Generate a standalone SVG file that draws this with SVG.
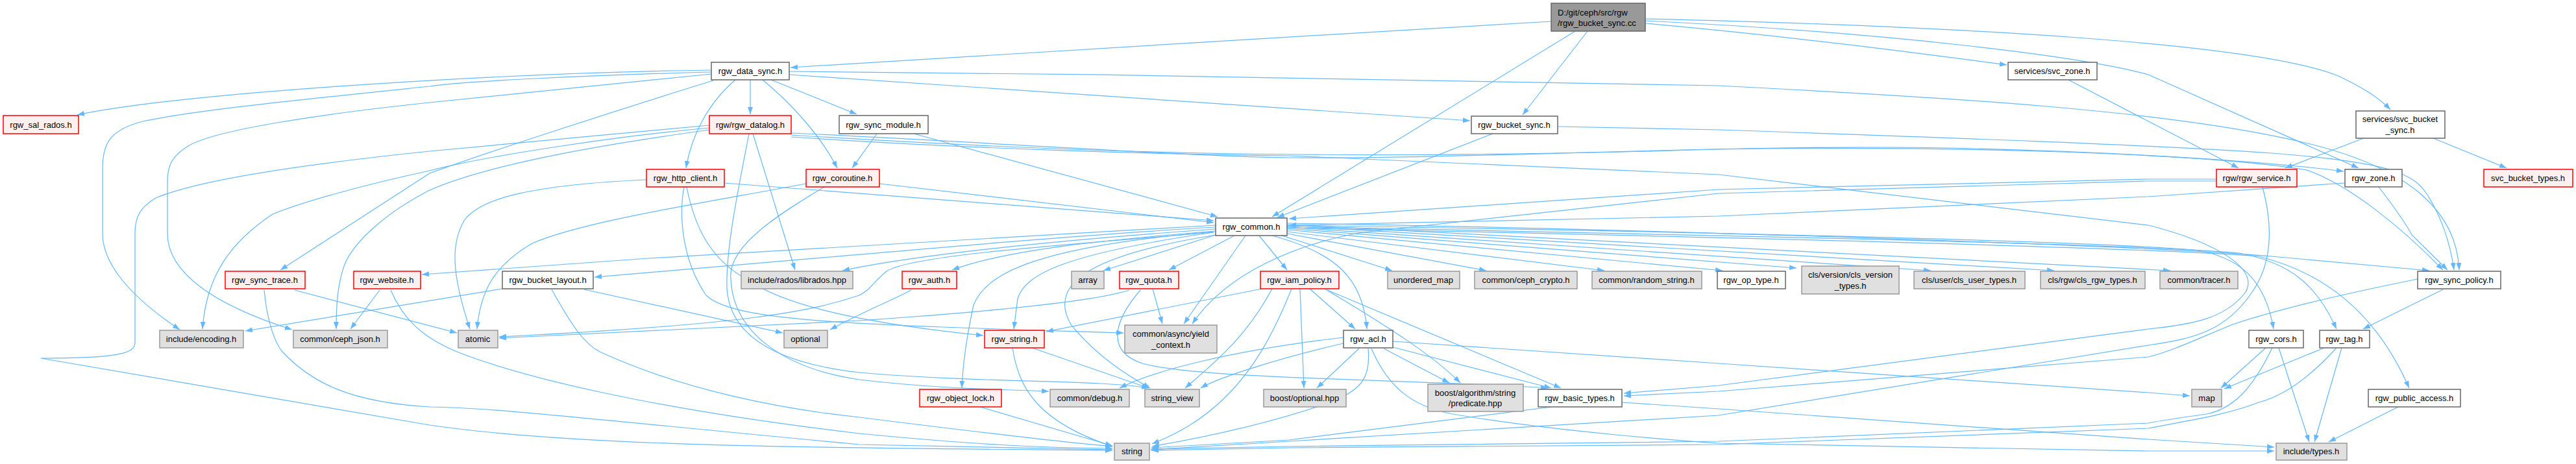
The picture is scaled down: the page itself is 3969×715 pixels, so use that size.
<svg xmlns="http://www.w3.org/2000/svg" width="3969" height="715" viewBox="0 0 3969 715">
<style>
text{font-family:"Liberation Sans",Arial,sans-serif;font-size:13px;fill:#000;text-anchor:middle}
.w{fill:#fff;stroke:#666;stroke-width:1.5}
.g{fill:#E0E0E0;stroke:#999;stroke-width:1.5}
.r{fill:#FFF0F0;stroke:#F00;stroke-width:1.5}
.root{fill:#999;stroke:#666;stroke-width:1.5}
#edges path{fill:none;stroke:#63B8FF;stroke-width:1.2;marker-end:url(#ah)}
</style>
<defs>
<marker id="ah" markerUnits="userSpaceOnUse" markerWidth="11" markerHeight="8" refX="11" refY="4" orient="auto" viewBox="0 0 11 8"><path d="M0,0 L11,4 L0,8 z" fill="#63B8FF"/></marker>
</defs>
<rect width="3969" height="715" fill="#fff"/>
<g id="edges">
<path d="M2390,33 C2000,55 1500,88 1218,104"/>
<path d="M2446,48 L2346,177"/>
<path d="M2427,48 L1960,334"/>
<path d="M2535,36 C2800,60 3000,88 3092,100"/>
<path d="M2535,29 C3000,40 3480,65 3605,118 C3640,135 3665,150 3683,169"/>
<path d="M2535,32 C2900,50 3200,85 3310,115 L3634,259"/>
<path d="M2300,206 L1968,335"/>
<path d="M1216,110 C1700,113 2300,125 2648,132 C3000,150 3350,170 3560,222 C3720,262 3785,330 3789,416"/>
<path d="M1216,115 L2265,186"/>
<path d="M1096,108 C800,112 300,140 119,177"/>
<path d="M1096,111 C900,116 700,126 662,133 C450,155 300,170 220,187 C170,200 158,220 158,260 L158,360 C158,400 190,450 277,508"/>
<path d="M1096,114 L662,158 C500,175 330,200 290,225 C265,240 258,255 258,280 L258,360 C258,420 330,470 450,508"/>
<path d="M1093,193 L662,233 C450,255 300,280 240,305 C215,320 208,335 208,360 L208,528 C208,545 180,552 63,552 L662,655 C900,690 1300,690 1714,694"/>
<path d="M1093,197 C950,210 750,240 662,263 C560,285 470,310 420,330 C360,370 318,420 312,507"/>
<path d="M1099,124 C950,170 750,235 662,267 L432,416"/>
<path d="M1093,200 C950,220 760,250 662,293 C600,325 545,370 530,410 C520,440 518,470 518,507"/>
<path d="M585,447 L540,507"/>
<path d="M602,447 C620,490 650,520 704,542 C800,580 1000,630 1324,668 C1500,685 1600,690 1714,691"/>
<path d="M850,446 C880,500 900,530 924,542 C1050,600 1200,630 1324,643 C1500,665 1650,683 1714,688"/>
<path d="M900,446 L1206,513"/>
<path d="M774,445 L378,510"/>
<path d="M407,447 C412,500 425,530 435,542 C480,590 540,620 662,627 C760,628 900,645 1324,685 L1714,693"/>
<path d="M454,447 L704,513"/>
<path d="M996,277 C820,285 740,305 715,340 C695,375 695,420 724,507"/>
<path d="M1054,288 C1046,330 1050,400 1088,455 C1130,495 1300,500 1731,513"/>
<path d="M1058,288 C1070,350 1095,400 1150,430 C1200,465 1300,495 1515,517"/>
<path d="M1116,282 L1870,340"/>
<path d="M1355,283 L1870,343"/>
<path d="M1242,283 C1100,310 900,340 820,375 C760,410 740,450 735,507"/>
<path d="M1270,288 C1200,330 1120,380 1126,430 C1130,520 1220,570 1324,585 C1450,600 1550,600 1616,603"/>
<path d="M1160,206 L1225,416"/>
<path d="M1154,206 C1140,280 1118,380 1120,445 C1125,520 1200,560 1324,574 C1500,590 1700,585 1770,598"/>
<path d="M1156,123 L1156,176"/>
<path d="M1133,123 C1090,160 1065,210 1057,259"/>
<path d="M1175,123 C1220,160 1265,210 1290,259"/>
<path d="M1188,123 L1320,176"/>
<path d="M1351,206 L1313,259"/>
<path d="M1408,206 L1876,334"/>
<path d="M1219,205 C1500,218 1850,242 1986,243 C2300,245 2648,222 3000,228 C3300,235 3500,250 3611,264"/>
<path d="M1219,208 C1600,232 2000,250 2648,230 C3000,224 3400,236 3554,262 C3620,285 3700,350 3764,416"/>
<path d="M2400,195 L2648,200 C3000,212 3310,223 3500,236 C3690,250 3720,270 3740,300 C3765,340 3776,380 3781,416"/>
<path d="M1219,211 C1500,230 1800,238 1986,240 L2648,269 L3310,347 C3420,375 3480,415 3460,450 C3430,490 3380,500 3310,507 L2648,594 L2502,606"/>
<path d="M3486,288 C3500,340 3505,400 3470,450 C3430,510 3380,522 3310,532 L2648,640 L1986,680 L1773,693"/>
<path d="M3725,430 C3600,455 3500,480 3440,500 C3390,520 3350,540 3310,550 L2648,603 L2502,610"/>
<path d="M3187,123 L3449,259"/>
<path d="M3642,213 L3521,259"/>
<path d="M3749,213 L3862,259"/>
<path d="M3415,276 L3310,276 L2648,292 L1986,337"/>
<path d="M3415,279 L3310,279 L2648,298 L2100,358 C2000,375 1890,420 1837,499"/>
<path d="M3613,282 L3310,303 L2648,333 L1986,347"/>
<path d="M3665,288 C3690,320 3710,350 3716,362 L3771,416"/>
<path d="M1873,347 C1600,362 1324,378 1000,398 L650,423"/>
<path d="M1873,350 C1600,366 1324,393 916,427"/>
<path d="M1873,353 C1600,372 1400,395 1298,417"/>
<path d="M1873,356 C1700,370 1550,385 1467,416"/>
<path d="M1870,358 C1600,380 1400,395 1366,418 C1345,435 1340,448 1324,455 C1250,480 1150,500 769,519"/>
<path d="M1873,362 L1700,417"/>
<path d="M1902,363 L1801,416"/>
<path d="M1919,363 L1824,499"/>
<path d="M1940,363 L1983,416"/>
<path d="M1873,362 C1700,390 1610,430 1650,500 C1690,550 1740,580 1772,598"/>
<path d="M1870,358 C1650,390 1580,420 1568,460 L1562,507"/>
<path d="M1870,357 C1600,380 1520,420 1500,470 C1487,530 1483,570 1482,598"/>
<path d="M1960,363 C2060,390 2100,430 2106,507"/>
<path d="M1975,363 L2145,417"/>
<path d="M1983,360 L2290,417"/>
<path d="M1983,357 L2472,417"/>
<path d="M1983,354 L2654,417"/>
<path d="M1983,352 L2768,413"/>
<path d="M1983,350 L2975,417"/>
<path d="M1983,348 L3165,417"/>
<path d="M1983,346 L3344,417"/>
<path d="M1983,344 C2500,352 3300,378 3500,395 L3743,417"/>
<path d="M1983,347 C2500,355 3200,370 3380,385 C3450,395 3490,430 3503,507"/>
<path d="M1983,349 C2500,360 3300,375 3450,390 C3530,405 3570,440 3600,507"/>
<path d="M1983,351 C2500,362 3300,380 3480,395 C3580,420 3660,480 3712,598"/>
<path d="M1740,447 C1700,460 1600,475 1324,494 L769,521"/>
<path d="M1776,445 L1791,499"/>
<path d="M1757,447 C1720,490 1700,540 1760,560 C1850,585 2200,585 2385,598"/>
<path d="M1404,447 C1370,465 1330,480 1279,508"/>
<path d="M1944,445 L1612,511"/>
<path d="M2003,445 L2009,598"/>
<path d="M2018,445 L2088,507"/>
<path d="M2041,445 C2150,510 2210,550 2250,590"/>
<path d="M2045,447 L2405,598"/>
<path d="M1960,445 C1920,520 1870,560 1826,598"/>
<path d="M1990,445 C1960,520 1930,570 1890,610 C1850,650 1810,670 1775,684"/>
<path d="M2070,520 C1900,540 1780,570 1725,598"/>
<path d="M2070,529 C1980,550 1880,580 1850,598"/>
<path d="M2094,537 L2029,598"/>
<path d="M2108,537 C2112,580 2100,600 2050,620 C1950,655 1850,675 1775,688"/>
<path d="M2132,537 L2233,590"/>
<path d="M2146,535 L2390,598"/>
<path d="M2146,526 L2648,560 L3310,605 L3374,610"/>
<path d="M2113,537 C2140,600 2180,630 2250,640 C2400,665 2600,680 2648,683 L3310,695 L3504,695"/>
<path d="M2499,620 L2648,630 L3310,677 L3504,689"/>
<path d="M2391,627 L1986,678 L1774,690"/>
<path d="M1560,536 C1570,600 1600,650 1714,688"/>
<path d="M1590,536 L1770,598"/>
<path d="M1510,627 L1714,687"/>
<path d="M3491,536 L3422,598"/>
<path d="M3511,536 L3558,681"/>
<path d="M3501,536 C3470,600 3440,630 3400,638 C3350,645 3320,650 3310,652 L2648,680 L1986,688 L1774,692"/>
<path d="M3581,536 L3427,599"/>
<path d="M3608,536 L3566,681"/>
<path d="M3600,536 C3560,580 3520,610 3480,620 C3430,640 3360,650 3310,660 L2648,685 L1986,690 L1774,694"/>
<path d="M3695,627 L3588,681"/>
<path d="M3764,446 L3641,507"/>
</g>
<g id="n_root"><rect class="root" x="2390" y="5" width="145" height="43"/><text x="2400" y="24" style="text-anchor:start">D:/git/ceph/src/rgw</text><text x="2400" y="40" style="text-anchor:start">/rgw_bucket_sync.cc</text></g>
<g id="n_data_sync"><rect class="w" x="1096" y="96" width="120" height="27"/><text x="1156" y="114">rgw_data_sync.h</text></g>
<g id="n_sal_rados"><rect class="r" x="5" y="178" width="116" height="28"/><text x="63" y="197">rgw_sal_rados.h</text></g>
<g id="n_datalog"><rect class="r" x="1093" y="178" width="126" height="28"/><text x="1156" y="197">rgw/rgw_datalog.h</text></g>
<g id="n_sync_module"><rect class="w" x="1293" y="178" width="137" height="28"/><text x="1361" y="197">rgw_sync_module.h</text></g>
<g id="n_bucket_sync"><rect class="w" x="2267" y="179" width="133" height="27"/><text x="2333" y="197">rgw_bucket_sync.h</text></g>
<g id="n_svc_zone"><rect class="w" x="3094" y="96" width="137" height="27"/><text x="3162" y="114">services/svc_zone.h</text></g>
<g id="n_svc_bucket_sync"><rect class="w" x="3630" y="171" width="137" height="42"/><text x="3698" y="188">services/svc_bucket</text><text x="3698" y="205">_sync.h</text></g>
<g id="n_http_client"><rect class="r" x="996" y="261" width="120" height="27"/><text x="1056" y="279">rgw_http_client.h</text></g>
<g id="n_coroutine"><rect class="r" x="1242" y="261" width="113" height="27"/><text x="1298" y="279">rgw_coroutine.h</text></g>
<g id="n_service"><rect class="r" x="3415" y="261" width="124" height="27"/><text x="3477" y="279">rgw/rgw_service.h</text></g>
<g id="n_zone"><rect class="w" x="3613" y="261" width="88" height="27"/><text x="3657" y="279">rgw_zone.h</text></g>
<g id="n_svc_bucket_types"><rect class="r" x="3827" y="261" width="137" height="27"/><text x="3895" y="279">svc_bucket_types.h</text></g>
<g id="n_common"><rect class="w" x="1873" y="336" width="110" height="27"/><text x="1928" y="354">rgw_common.h</text></g>
<g id="n_sync_trace"><rect class="r" x="347" y="418" width="123" height="27"/><text x="408" y="436">rgw_sync_trace.h</text></g>
<g id="n_website"><rect class="r" x="545" y="418" width="103" height="27"/><text x="596" y="436">rgw_website.h</text></g>
<g id="n_bucket_layout"><rect class="w" x="774" y="418" width="140" height="27"/><text x="844" y="436">rgw_bucket_layout.h</text></g>
<g id="n_librados"><rect class="g" x="1142" y="418" width="172" height="27"/><text x="1228" y="436">include/rados/librados.hpp</text></g>
<g id="n_auth"><rect class="r" x="1390" y="418" width="84" height="27"/><text x="1432" y="436">rgw_auth.h</text></g>
<g id="n_array"><rect class="g" x="1651" y="418" width="50" height="27"/><text x="1676" y="436">array</text></g>
<g id="n_quota"><rect class="r" x="1725" y="418" width="91" height="27"/><text x="1770" y="436">rgw_quota.h</text></g>
<g id="n_iam_policy"><rect class="r" x="1942" y="418" width="121" height="27"/><text x="2002" y="436">rgw_iam_policy.h</text></g>
<g id="n_unordered_map"><rect class="g" x="2138" y="418" width="111" height="27"/><text x="2193" y="436">unordered_map</text></g>
<g id="n_ceph_crypto"><rect class="g" x="2272" y="418" width="158" height="27"/><text x="2351" y="436">common/ceph_crypto.h</text></g>
<g id="n_random_string"><rect class="g" x="2453" y="418" width="169" height="27"/><text x="2537" y="436">common/random_string.h</text></g>
<g id="n_op_type"><rect class="w" x="2646" y="418" width="105" height="27"/><text x="2698" y="436">rgw_op_type.h</text></g>
<g id="n_cls_version"><rect class="g" x="2776" y="410" width="150" height="43"/><text x="2851" y="428">cls/version/cls_version</text><text x="2851" y="445">_types.h</text></g>
<g id="n_cls_user"><rect class="g" x="2949" y="418" width="171" height="27"/><text x="3034" y="436">cls/user/cls_user_types.h</text></g>
<g id="n_cls_rgw"><rect class="g" x="3144" y="418" width="161" height="27"/><text x="3224" y="436">cls/rgw/cls_rgw_types.h</text></g>
<g id="n_tracer"><rect class="g" x="3328" y="418" width="120" height="27"/><text x="3388" y="436">common/tracer.h</text></g>
<g id="n_sync_policy"><rect class="w" x="3725" y="418" width="128" height="27"/><text x="3789" y="436">rgw_sync_policy.h</text></g>
<g id="n_encoding"><rect class="g" x="246" y="509" width="129" height="27"/><text x="310" y="527">include/encoding.h</text></g>
<g id="n_ceph_json"><rect class="g" x="452" y="509" width="145" height="27"/><text x="524" y="527">common/ceph_json.h</text></g>
<g id="n_atomic"><rect class="g" x="706" y="509" width="61" height="27"/><text x="736" y="527">atomic</text></g>
<g id="n_optional"><rect class="g" x="1208" y="509" width="67" height="27"/><text x="1241" y="527">optional</text></g>
<g id="n_string_h"><rect class="r" x="1517" y="509" width="92" height="27"/><text x="1563" y="527">rgw_string.h</text></g>
<g id="n_yield"><rect class="g" x="1733" y="501" width="142" height="43"/><text x="1804" y="519">common/async/yield</text><text x="1804" y="536">_context.h</text></g>
<g id="n_acl"><rect class="w" x="2070" y="509" width="76" height="27"/><text x="2108" y="527">rgw_acl.h</text></g>
<g id="n_cors"><rect class="w" x="3465" y="509" width="84" height="27"/><text x="3507" y="527">rgw_cors.h</text></g>
<g id="n_tag"><rect class="w" x="3574" y="509" width="77" height="27"/><text x="3612" y="527">rgw_tag.h</text></g>
<g id="n_object_lock"><rect class="r" x="1417" y="600" width="126" height="27"/><text x="1480" y="618">rgw_object_lock.h</text></g>
<g id="n_debug"><rect class="g" x="1618" y="600" width="122" height="27"/><text x="1679" y="618">common/debug.h</text></g>
<g id="n_string_view"><rect class="g" x="1764" y="600" width="84" height="27"/><text x="1806" y="618">string_view</text></g>
<g id="n_boost_optional"><rect class="g" x="1947" y="600" width="127" height="27"/><text x="2010" y="618">boost/optional.hpp</text></g>
<g id="n_predicate"><rect class="g" x="2200" y="592" width="147" height="42"/><text x="2273" y="610">boost/algorithm/string</text><text x="2273" y="626">/predicate.hpp</text></g>
<g id="n_basic_types"><rect class="w" x="2370" y="600" width="129" height="27"/><text x="2434" y="618">rgw_basic_types.h</text></g>
<g id="n_map"><rect class="g" x="3377" y="600" width="46" height="27"/><text x="3400" y="618">map</text></g>
<g id="n_public_access"><rect class="w" x="3649" y="600" width="142" height="27"/><text x="3720" y="618">rgw_public_access.h</text></g>
<g id="n_string"><rect class="g" x="1717" y="683" width="54" height="26"/><text x="1744" y="700">string</text></g>
<g id="n_types"><rect class="g" x="3507" y="683" width="109" height="26"/><text x="3561" y="700">include/types.h</text></g>
</svg>
